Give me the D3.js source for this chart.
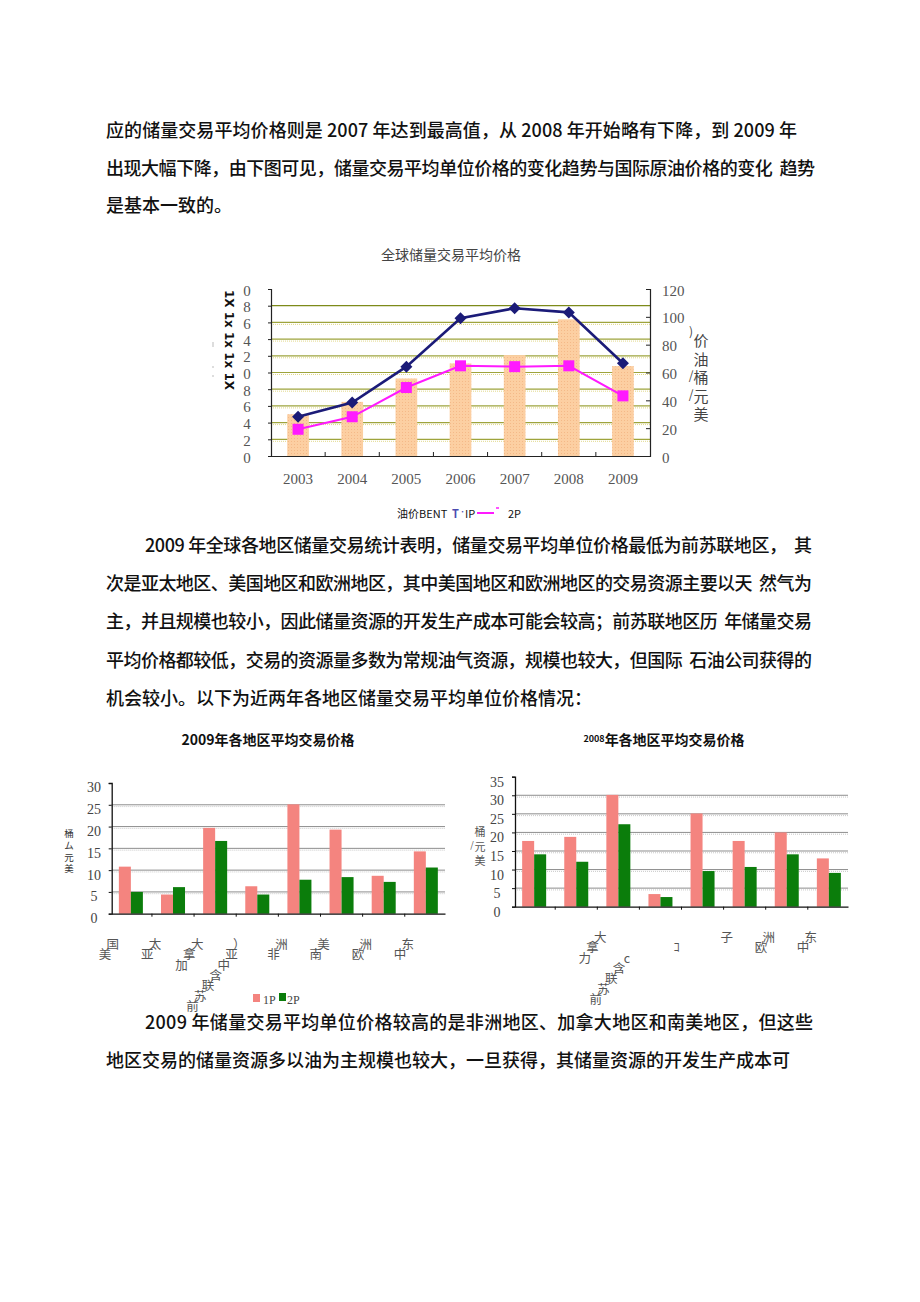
<!DOCTYPE html>
<html><head><meta charset="utf-8">
<script src="https://cdn.jsdelivr.net/npm/d3@7"></script>
<style>body{margin:0;background:#fff}</style>
</head><body>
<svg id="c" width="920" height="1302"></svg>
<script>
// ---------- data ----------
const years = ["2003","2004","2005","2006","2007","2008","2009"];
const brent = [30.0, 38.9, 55.7, 66.5, 72.5, 98.2, 64.6];
const p1Global = [4.7, 6.4, 10.7, 16.5, 17.7, 17.2, 11.1];
const p2Global = [3.2, 4.7, 8.2, 10.8, 10.7, 10.8, 7.2];
const leftTicks = [0,2,4,6,8,10,12,14,16,18,20];
const leftTickLabels = ["0","2","4","6","8","0","2","4","6","8","0"];
const rightTicks = [0,20,40,60,80,100,120];

const regions = ["美国","亚太","加拿大","前苏联-中亚","非洲","南美","欧洲","中东"];
const p1_2009 = [10.8, 4.4, 19.7, 6.3, 25.1, 19.3, 8.7, 14.3];
const p2_2009 = [5.0, 6.1, 16.7, 4.4, 7.8, 8.4, 7.3, 10.6];
const p1_2008 = [17.7, 18.8, 30.1, 3.4, 25.1, 17.7, 20.0, 13.0];
const p2_2008 = [14.1, 12.1, 22.2, 2.6, 9.6, 10.7, 14.1, 9.1];
const labels2009 = ["美国","亚太","加拿大","前苏联含中亚）","非洲","南美","欧洲","中东"];
const labels2008 = ["","","力拿大","前苏联含c  ","ｺ ","子","欧洲","中东"];
const ticks2009 = [0,5,10,15,20,25,30];
const ticks2008 = [0,5,10,15,20,25,30,35];
const series = ["1P","2P"];

const para1 = [
 "应的储量交易平均价格则是 2007 年达到最高值，从 2008 年开始略有下降，到 2009 年",
 "出现大幅下降，由下图可见，储量交易平均单位价格的变化趋势与国际原油价格的变化  趋势",
 "是基本一致的。"];
const para2 = [
 "2009 年全球各地区储量交易统计表明，储量交易平均单位价格最低为前苏联地区，  其",
 "次是亚太地区、美国地区和欧洲地区，其中美国地区和欧洲地区的交易资源主要以天  然气为",
 "主，并且规模也较小，因此储量资源的开发生产成本可能会较高；前苏联地区历  年储量交易",
 "平均价格都较低，交易的资源量多数为常规油气资源，规模也较大，但国际  石油公司获得的",
 "机会较小。以下为近两年各地区储量交易平均单位价格情况："];
const para3 = [
 "2009 年储量交易平均单位价格较高的是非洲地区、加拿大地区和南美地区，但这些",
 "地区交易的储量资源多以油为主规模也较大，一旦获得，其储量资源的开发生产成本可"];

// ---------- drawing ----------
const svg = d3.select("#c");
svg.append("rect").attr("width",920).attr("height",1302).attr("fill","#fff");
const SANS = "'Noto Sans CJK SC','Noto Sans',sans-serif";
const SERIF = "'Liberation Serif','DejaVu Serif',serif";

const defs = svg.append("defs");
const pat = defs.append("pattern").attr("id","dots").attr("width",3).attr("height",3)
  .attr("patternUnits","userSpaceOnUse");
pat.append("rect").attr("width",3).attr("height",3).attr("fill","#fccfa2");
pat.append("rect").attr("x",0).attr("y",0).attr("width",1).attr("height",1).attr("fill","#f4b988");

function paragraph(lines, x0, indentX, y0, gap, fits){
  lines.forEach((t,i)=>{
    const x = i===0 ? indentX : x0;
    const tx = svg.append("text").attr("x",x).attr("y",y0+i*gap)
      .attr("font-family",SANS).attr("font-size",18).attr("font-weight",500)
      .attr("fill","#111").attr("xml:space","preserve").style("white-space","pre").text(t);
    if (fits[i]) tx.attr("textLength",fits[i]-x).attr("lengthAdjust","spacing");
  });
}
paragraph(para1,106,106,137,37.5,[797,815,null]);
paragraph(para2,106,145,552,38.2,[812,812,812,812,null]);
paragraph(para3,106,145,1029,38,[813,null]);

// ---------- Chart 1 ----------
{
  const g = svg.append("g");
  const x = d3.scaleBand().domain(years).range([271,650]).paddingInner(0.6).paddingOuter(0.3);
  const yL = d3.scaleLinear().domain([0,20]).range([456,289]);
  const yR = d3.scaleLinear().domain([0,120]).range([456,289]);

  g.append("text").attr("x",451).attr("y",260).attr("text-anchor","middle")
    .attr("font-family",SANS).attr("font-size",14).attr("fill","#444").text("全球储量交易平均价格");

  // gridlines
  leftTicks.filter(d=>d>0 && d<20).forEach(d=>{
    g.append("line").attr("x1",271).attr("x2",650).attr("y1",yL(d)).attr("y2",yL(d))
      .attr("stroke", d===18 ? "#7d8a1a" : "#9ea43c").attr("stroke-width",1.2);
    if (d!==18) g.append("line").attr("x1",271).attr("x2",650).attr("y1",yL(d)+2).attr("y2",yL(d)+2)
      .attr("stroke","#e2d98a").attr("stroke-width",1).attr("stroke-dasharray","1,1");
  });

  // bars
  g.selectAll("rect.bar").data(years).join("rect").attr("class","bar")
    .attr("x",d=>x(d)).attr("width",x.bandwidth())
    .attr("y",(d,i)=>yR(brent[i])).attr("height",(d,i)=>yR(0)-yR(brent[i]))
    .attr("fill","url(#dots)");

  // axes
  const ax = g.append("g").attr("transform","translate(271,0)")
    .call(d3.axisLeft(yL).tickValues(leftTicks).tickSize(3).tickFormat((d,i)=>leftTickLabels[i]));
  ax.select(".domain").attr("stroke","#222").attr("stroke-width",1.2);
  ax.selectAll(".tick line").attr("stroke","#222");
  ax.selectAll("text").attr("font-family",SERIF).attr("font-size",15).attr("fill","#555")
    .attr("text-anchor","middle").attr("x",-24).attr("dy","0.4em");

  const ar = g.append("g").attr("transform","translate(650,0)")
    .call(d3.axisRight(yR).tickValues(rightTicks).tickSize(-4).tickPadding(12));
  ar.select(".domain").attr("stroke","#222").attr("stroke-width",1.2);
  ar.selectAll(".tick line").attr("stroke","#222");
  ar.selectAll("text").attr("font-family",SERIF).attr("font-size",15).attr("fill","#555").attr("dy","0.4em");

  const axb = g.append("g").attr("transform","translate(0,456)")
    .call(d3.axisBottom(x).tickSize(0).tickPadding(17));
  axb.select(".domain").attr("stroke","#222").attr("stroke-width",1.2);
  axb.selectAll("text").attr("font-family",SERIF).attr("font-size",15).attr("fill","#555");
  years.slice(1).forEach(d=>{
    const bx = x(d) - (x.step()-x.bandwidth())/2;
    g.append("line").attr("x1",bx).attr("x2",bx).attr("y1",456).attr("y2",452).attr("stroke","#222");
  });

  // lines
  const cx = d=>x(d)+x.bandwidth()/2;
  const l1 = d3.line().x((d,i)=>cx(years[i])).y(d=>yL(d));
  g.append("path").attr("d",l1(p1Global)).attr("fill","none").attr("stroke","#1b1b78").attr("stroke-width",2.6);
  g.append("path").attr("d",l1(p2Global)).attr("fill","none").attr("stroke","#ff1aff").attr("stroke-width",2);
  g.selectAll("path.dia").data(p1Global).join("path").attr("class","dia")
    .attr("d",d3.symbol(d3.symbolSquare,72)())
    .attr("transform",(d,i)=>`translate(${cx(years[i])},${yL(d)}) rotate(45)`)
    .attr("fill","#1b1b78");
  g.selectAll("rect.sq").data(p2Global).join("rect").attr("class","sq")
    .attr("x",(d,i)=>cx(years[i])-5.5).attr("y",d=>yL(d)-5.5).attr("width",11).attr("height",11)
    .attr("fill","#ff1aff");

  // side labels
  g.append("text").attr("transform","translate(225,340) rotate(90)").attr("text-anchor","middle")
    .attr("font-family","'DejaVu Sans',sans-serif").attr("font-weight","bold").attr("font-size",12)
    .attr("fill","#111").text("1X 1x 1x 1x 1X");
  g.append("line").attr("x1",213).attr("x2",213).attr("y1",342).attr("y2",347).attr("stroke","#bbb");
  g.append("line").attr("x1",213).attr("x2",213).attr("y1",366).attr("y2",368).attr("stroke","#bbb");
  g.append("line").attr("x1",213).attr("x2",213).attr("y1",375).attr("y2",377).attr("stroke","#bbb");

  const rl = g.append("g").attr("font-family",SANS).attr("font-size",15).attr("fill","#444");
  ["价","油","桶","元","美"].forEach((ch,i)=>{
    rl.append("text").attr("x",701).attr("y",346+i*18.5).attr("text-anchor","middle").text(ch);
  });
  rl.append("text").attr("x",691).attr("y",336).attr("font-size",12).attr("text-anchor","middle").text(")");
  rl.append("text").attr("x",691).attr("y",380).attr("font-size",12).attr("text-anchor","middle").text("/");
  rl.append("text").attr("x",691).attr("y",399).attr("font-size",12).attr("text-anchor","middle").text("/");

  // legend
  const lg = g.append("g").attr("font-family",SANS).attr("font-size",11).attr("fill","#111");
  lg.append("text").attr("x",397).attr("y",518).text("油价BENT");
  lg.append("text").attr("x",452).attr("y",518).attr("fill","#4b4bb0").attr("font-weight","bold").text("T");
  lg.append("text").attr("x",459).attr("y",514).attr("fill","#4b4bb0").attr("font-size",7).text("·");
  lg.append("text").attr("x",465).attr("y",518).text("IP");
  lg.append("line").attr("x1",477).attr("x2",494).attr("y1",513).attr("y2",513).attr("stroke","#ff1aff").attr("stroke-width",2);
  lg.append("line").attr("x1",496).attr("x2",499).attr("y1",508).attr("y2",508).attr("stroke","#ff1aff").attr("stroke-width",1.5);
  lg.append("text").attr("x",508).attr("y",518).text("2P");
}

// ---------- regional bar charts ----------
function regionChart(o){
  const g = svg.append("g");
  const x = d3.scaleBand().domain(regions).range([o.x0,o.x1]).paddingInner(0.43).paddingOuter(0.17);
  const xs = d3.scaleBand().domain(series).range([0,x.bandwidth()]);
  const y = d3.scaleLinear().domain([0,o.max]).range([o.yb,o.yt]);

  o.ticks.filter(d=>d>0 && d<o.gridMax+1).forEach(d=>{
    g.append("line").attr("x1",o.x0).attr("x2",o.x1).attr("y1",y(d)).attr("y2",y(d))
      .attr("stroke","#8d8d8d").attr("stroke-width",1);
    g.append("line").attr("x1",o.x0).attr("x2",o.x1).attr("y1",y(d)+1.8).attr("y2",y(d)+1.8)
      .attr("stroke","#c9c9c9").attr("stroke-width",1).attr("stroke-dasharray","1,1");
  });

  const colors = {"1P":"#f4847f","2P":"#0b7d0b"};
  regions.forEach((r,i)=>{
    [o.p1[i],o.p2[i]].forEach((v,j)=>{
      const s = series[j];
      g.append("rect").attr("x",x(r)+xs(s)).attr("width",xs.bandwidth())
        .attr("y",y(v)).attr("height",y(0)-y(v)).attr("fill",colors[s]);
    });
  });

  const ay = g.append("g").attr("transform",`translate(${o.x0},0)`)
    .call(d3.axisLeft(y).tickValues(o.ticks).tickSize(3));
  ay.select(".domain").attr("stroke","#111").attr("stroke-width",1.3);
  ay.selectAll(".tick line").attr("stroke","#111");
  ay.selectAll("text").attr("font-family",SERIF).attr("font-size",14).attr("fill","#444")
    .attr("text-anchor","middle").attr("x",o.lx-o.x0).attr("dy",(0.32*14+o.ldy)+"px");

  const ab = g.append("g").attr("transform",`translate(0,${o.yb})`)
    .call(d3.axisBottom(x).tickSize(0).tickFormat(""));
  ab.select(".domain").attr("stroke","#111").attr("stroke-width",1.3);
  regions.slice(1).forEach(r=>{
    const bx = x(r) - (x.step()-x.bandwidth())/2;
    g.append("line").attr("x1",bx).attr("x2",bx).attr("y1",o.yb).attr("y2",o.yb+3).attr("stroke","#111");
  });

  // garbled category labels, characters stepped along a diagonal
  const lab = g.append("g").attr("font-family",SANS).attr("font-size",12.5).attr("fill","#555")
    .attr("text-anchor","middle");
  o.labels.forEach((t,i)=>{
    const chars = Array.from(t);
    const cx = x(regions[i]) + x.bandwidth()/2 - 18;
    chars.forEach((ch,k)=>{
      const kk = chars.length-1-k;
      if (ch.trim()==="") return;
      lab.append("text").attr("x",cx - kk*7.8).attr("y",o.labY + kk*10.3 + 5).text(ch);
    });
  });

  g.append("text").attr("x",o.tx).attr("y",o.ty).attr("text-anchor","middle")
    .attr("font-family",SANS).attr("font-size",14).attr("font-weight","bold").attr("fill","#111")
    .call(t=>{
      if (o.smallYear){
        t.append("tspan").attr("font-size",9).attr("dy",-3).text(o.title.slice(0,4));
        t.append("tspan").attr("dy",3).text(o.title.slice(4));
      } else t.text(o.title);
    });
  return {g,x,y};
}

regionChart({x0:111.7,x1:445,yb:913.7,yt:783,max:30,ticks:ticks2009,gridMax:25,
  p1:p1_2009,p2:p2_2009,labels:labels2009,labY:944,lx:94,ldy:4.5,
  title:"2009年各地区平均交易价格",tx:268,ty:745,smallYear:false});
regionChart({x0:515,x1:848,yb:906.7,yt:776.7,max:35,ticks:ticks2008,gridMax:30,
  p1:p1_2008,p2:p2_2008,labels:labels2008,labY:937,lx:497,ldy:5,
  title:"2008年各地区平均交易价格",tx:664,ty:745,smallYear:true});

// y-axis unit labels
{
  const t2 = svg.append("g").attr("font-family",SANS).attr("font-size",9.5).attr("fill","#333").attr("text-anchor","middle");
  ["桶","ム","元","美"].forEach((ch,i)=>t2.append("text").attr("x",69).attr("y",837+i*11.8).text(ch));
  const t3 = svg.append("g").attr("font-family",SANS).attr("font-size",11).attr("fill","#555").attr("text-anchor","middle");
  ["桶","元","美"].forEach((ch,i)=>t3.append("text").attr("x",480).attr("y",836+i*14.5).text(ch));
  t3.append("text").attr("x",472).attr("y",848).attr("font-size",9).text("/");
}

// legend for 2009 chart
{
  const lg = svg.append("g").attr("font-family",SERIF).attr("font-size",12).attr("fill","#444");
  lg.append("rect").attr("x",253).attr("y",994).attr("width",7).attr("height",8).attr("fill","#f4847f");
  lg.append("text").attr("x",263).attr("y",1004).text("1P");
  lg.append("rect").attr("x",279).attr("y",993).attr("width",7).attr("height",8).attr("fill","#0b7d0b");
  lg.append("text").attr("x",287).attr("y",1004).text("2P");
}
</script>
</body></html>
